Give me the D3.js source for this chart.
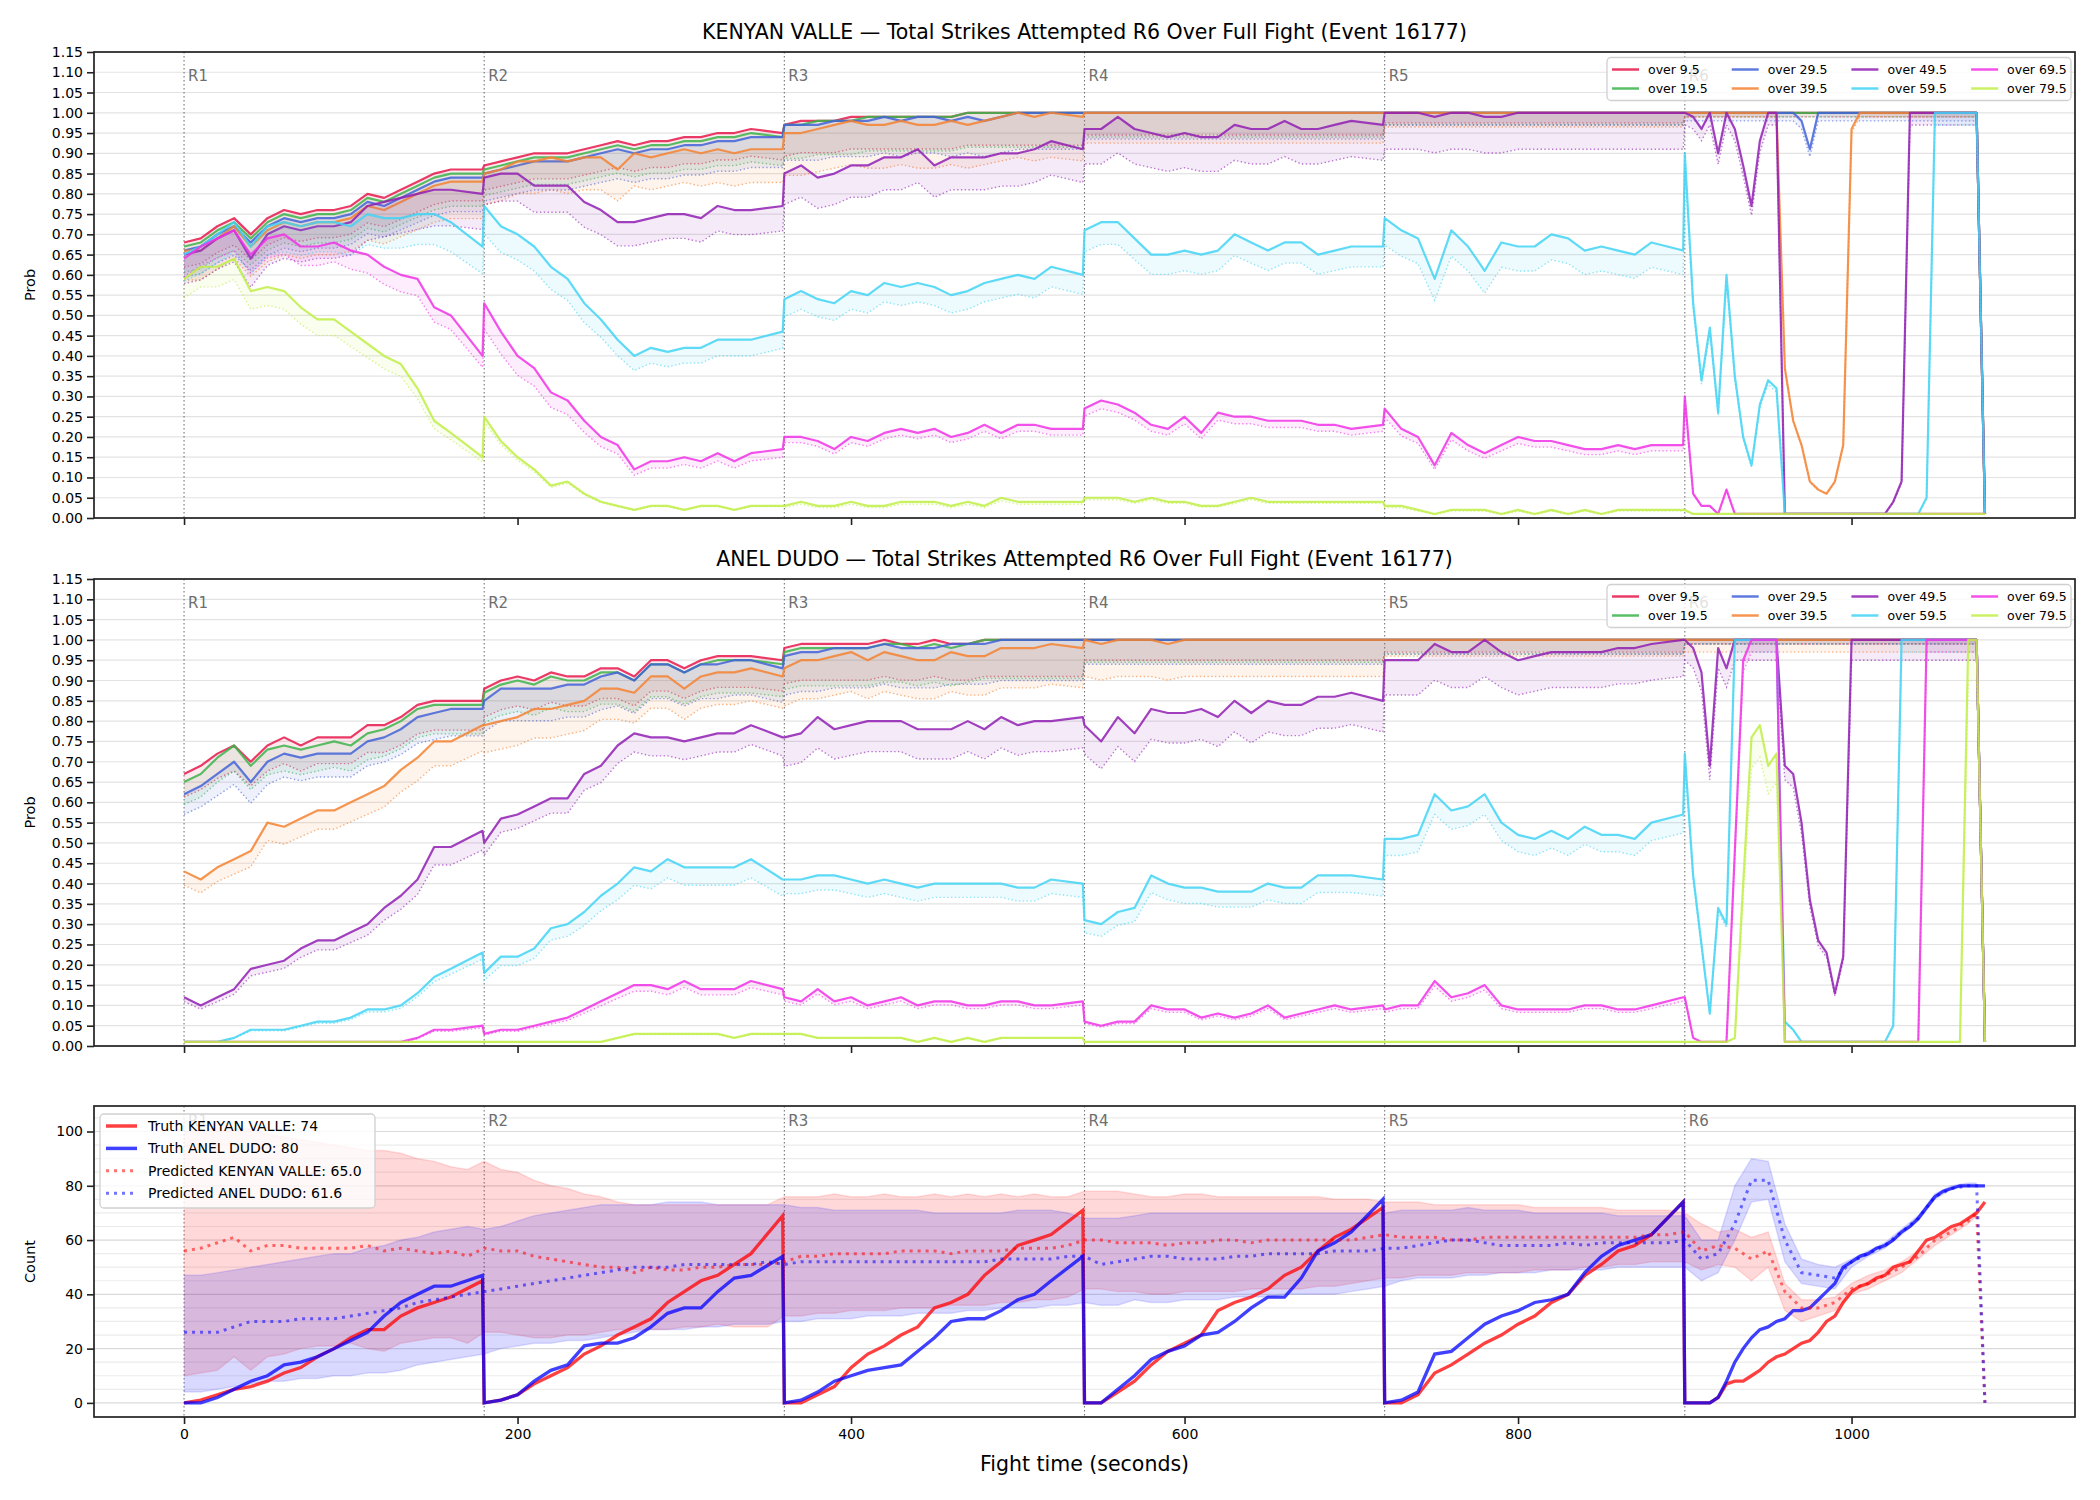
<!DOCTYPE html>
<html>
<head>
<meta charset="utf-8">
<script src="https://cdn.jsdelivr.net/npm/d3@7"></script>
<style>
  body { margin: 0; background: #fff; }
  text { font-family: "DejaVu Sans", sans-serif; }
</style>
</head>
<body>
<svg id="chart"></svg>
<script>
// helper for flat stretches (line sits on 1.00 or on the floor)
const run = (v, n) => Array(n).fill(v);

// ---- sampling grid: rounds 1-5 every 10 s (+ last second), round 6 every 5 s, then fight end
const ROUND_STARTS = [0, 180, 360, 540, 720, 900];
const ROUND_LABELS = ["R1", "R2", "R3", "R4", "R5", "R6"];
const OFFSETS = [0, 10, 20, 30, 40, 50, 60, 70, 80, 90, 100, 110, 120, 130, 140, 150, 160, 179];
const R6_OFFSETS = d3.range(0, 180, 5);
const END_TIME = 1080;
const T = [
  ...ROUND_STARTS.slice(0, 5).flatMap(s => OFFSETS.map(o => s + o)),
  ...R6_OFFSETS.map(o => 900 + o),
  END_TIME
];

const LINE_LABELS = ["over 9.5", "over 19.5", "over 29.5", "over 39.5", "over 49.5", "over 59.5", "over 69.5", "over 79.5"];

// ---- KENYAN VALLE, probability in percent
const kvOver9 = [
  68,69,72,74,70,74,76,75,76,76,77,80,79,81,83,85,86,86,
  87,88,89,90,90,90,91,92,93,92,93,93,94,94,95,95,96,95,
  97,98,98,98,99,99,99,99,99,99,99,100,100,100,100,100,100,100,
  ...run(100,18), ...run(100,18), ...run(100,36), 1];
const kvOver19 = [
  67,68,71,73,69,73,75,74,75,75,76,79,78,80,82,84,85,85,
  86,87,88,89,89,89,90,91,92,91,92,92,93,93,94,94,95,94,
  97,97,98,98,98,99,99,99,99,99,99,100,100,100,100,100,100,100,
  ...run(100,18), ...run(100,18), ...run(100,36), 1];
const kvOver29 = [
  66,67,70,72,68,72,74,73,74,74,75,78,77,79,81,83,84,84,
  85,86,87,88,88,88,89,90,91,90,91,91,92,92,93,93,94,94,
  97,97,97,98,98,98,99,98,99,99,98,99,98,99,100,100,100,100,
  ...run(100,18), ...run(100,18),
  ...run(100,14), 98,91, ...run(100,20), 1];
const kvOver39 = [
  66,66,69,72,67,71,73,72,73,73,74,77,76,78,80,82,83,83,
  85,86,88,88,89,88,89,89,86,90,89,90,91,90,91,90,91,91,
  95,95,96,97,98,97,97,98,97,97,98,97,98,99,100,99,100,99,
  ...run(100,18), ...run(100,18),
  ...run(100,12), 37,24,18,9,7,6,9,18,96, ...run(100,15), 1];
const kvOver49 = [
  65,66,69,71,64,70,72,71,72,72,73,77,78,79,80,81,81,80,
  84,85,85,82,82,82,78,76,73,73,74,75,75,74,77,76,76,77,
  85,87,84,85,87,87,89,89,91,87,89,89,89,90,90,91,93,91,
  96,96,99,96,95,94,95,94,94,97,96,96,98,96,96,97,98,97,
  100,100,100,99,100,100,99,99,100,100,100,100,100,100,100,100,100,100,
  100,99,96,100,90,100,96,87,77,93,100,100, ...run(1,13), 4,9, ...run(100,9), 1];
const kvOver59 = [
  65,67,70,73,67,72,73,72,73,73,72,75,74,74,75,75,73,67,
  77,72,70,67,62,59,53,49,44,40,42,41,42,42,44,44,44,46,
  54,56,54,53,56,55,58,57,58,57,55,56,58,59,60,59,62,60,
  71,73,73,69,65,65,66,65,66,70,68,66,68,68,65,66,67,67,
  74,71,69,59,71,67,61,68,67,67,70,69,66,67,66,65,68,66,
  90,53,34,47,26,60,35,20,13,28,34,32, ...run(1,17), 5, ...run(100,6), 1];
const kvOver69 = [
  64,67,69,71,65,69,70,67,67,68,66,65,62,60,59,52,50,40,
  53,46,40,37,31,29,24,20,18,12,14,14,15,14,16,14,16,17,
  20,20,19,17,20,19,21,22,21,22,20,21,23,21,23,23,22,22,
  27,29,28,26,23,22,25,21,26,25,25,24,24,24,23,23,22,23,
  27,22,20,13,21,18,16,18,20,19,19,18,17,17,18,17,18,18,
  30,6,3,3,1,7,1, ...run(1,29), 1];
const kvOver79 = [
  59,62,62,64,56,57,56,52,49,49,46,43,40,38,32,24,21,15,
  25,19,15,12,8,9,6,4,3,2,3,3,2,3,3,2,3,3,
  3,4,3,3,4,3,3,4,4,4,3,4,3,5,4,4,4,4,
  5,5,5,4,5,4,4,3,3,4,5,4,4,4,4,4,4,4,
  3,3,2,1,2,2,2,1,2,1,2,1,2,1,2,2,2,2,
  2, ...run(1,35), 1];

// ---- ANEL DUDO, probability in percent
const adOver9 = [
  67,69,72,74,70,74,76,74,76,76,76,79,79,81,84,85,85,85,
  88,90,91,90,92,91,91,93,93,91,95,95,93,95,96,96,96,95,
  98,99,99,99,99,99,100,99,99,100,99,99,100,100,100,100,100,100,
  ...run(100,18), ...run(100,18), ...run(100,36), 1];
const adOver19 = [
  65,67,71,74,69,73,74,73,74,75,74,77,78,80,83,84,84,84,
  87,89,90,89,91,90,90,92,92,90,94,94,92,94,95,95,95,94,
  97,98,98,98,98,98,99,99,98,99,98,99,100,100,100,100,100,100,
  ...run(100,18), ...run(100,18), ...run(100,36), 1];
const adOver29 = [
  62,64,67,70,65,70,72,71,72,72,72,75,76,78,81,82,83,83,
  85,88,88,88,88,89,89,91,92,90,94,94,92,94,94,95,95,93,
  96,97,97,98,98,98,99,98,98,98,99,99,99,100,100,100,100,100,
  ...run(100,18), ...run(100,18), ...run(100,36), 1];
const adOver39 = [
  43,41,44,46,48,55,54,56,58,58,60,62,64,68,71,75,75,79,
  79,80,81,83,83,84,85,88,88,87,91,91,88,91,92,92,93,91,
  93,95,95,96,97,95,97,96,95,95,97,96,96,98,98,98,99,98,
  100,99,100,100,100,99, ...run(100,12),
  ...run(100,18), ...run(100,36), 1];
const adOver49 = [
  12,10,12,14,19,20,21,24,26,26,28,30,34,37,41,49,49,53,
  50,56,57,59,61,61,67,69,74,77,76,76,75,76,77,77,79,76,
  76,77,81,78,79,80,80,80,78,78,78,80,78,81,79,80,80,81,
  79,75,81,77,83,82,82,83,81,85,82,85,84,84,86,86,87,85,
  95,95,95,99,97,97,100,97,95,96,97,97,97,97,98,98,99,100,
  100,98,92,69,98,93, ...run(100,6), 69,67,55,36,26,23,13,22, ...run(100,16), 1];
const adOver59 = [
  1,1,1,2,4,4,4,5,6,6,7,9,9,10,13,17,19,23,
  18,22,22,24,29,30,33,37,40,44,43,46,44,44,44,44,46,41,
  41,41,42,42,41,40,41,40,39,40,40,40,40,40,39,39,41,40,
  31,30,33,34,42,40,39,39,38,38,38,40,39,39,42,42,42,41,
  51,51,52,62,58,59,62,55,52,51,53,51,54,52,52,51,55,57,
  72,42,25,8,34,30, ...run(100,6), 6,4, ...run(1,11), 5, ...run(100,10), 1];
const adOver69 = [
  1,1,1,1,1,1,1,1,1,1,1,1,1,1,2,4,4,5,
  3,4,4,5,6,7,9,11,13,15,15,14,16,14,14,14,16,14,
  12,11,14,11,12,10,11,12,10,11,11,10,10,11,11,10,10,11,
  6,5,6,6,10,9,9,7,8,7,8,10,7,8,9,10,9,10,
  9,10,10,16,12,13,15,10,9,9,9,9,10,10,9,9,10,12,
  12,2,1,1,1,1,48,95,100,100,100,100, ...run(1,17), ...run(100,7), 1];
const adOver79 = [
  ...run(1,18),
  1,1,1,1,1,1,1,1,2,3,3,3,3,3,3,2,3,3,
  3,3,2,2,2,2,2,2,1,2,1,2,1,2,2,2,2,2,
  ...run(1,18), ...run(1,18),
  ...run(1,6), 2,40,76,79,69,72, ...run(1,22), 100,100, 1];

// ---- width of the dotted lower band, as a fraction of the value, per round (R1..R6)
const kvBand = [
  [.09,.07,.08,.055,.025,.01], [.095,.075,.085,.06,.03,.01], [.10,.08,.09,.065,.03,.02], [.11,.09,.11,.075,.035,.01],
  [.11,.08,.09,.09,.09,.03], [.10,.09,.08,.075,.09,.03], [.07,.12,.07,.07,.08,.03], [.08,.05,.15,.10,.15,.10]
];
const adBand = [
  [.085,.08,.09,.05,.03,.01], [.085,.085,.095,.055,.035,.01], [.08,.09,.10,.06,.035,.01], [.08,.086,.10,.09,.04,.03],
  [.09,.06,.094,.09,.09,.05], [.07,.10,.085,.10,.08,.03], [.10,.10,.08,.08,.08,.03], [.05,.05,.05,.05,.05,.10]
];

// ---- counts: truth on the same grid as above
const kvTruth = [
  0,1,3,5,6,8,11,13,17,20,24,27,27,32,35,37,39,45,
  0,1,3,7,10,13,18,21,25,28,31,37,41,45,47,51,55,69,
  0,0,3,6,13,18,21,25,28,35,37,40,47,52,58,60,62,71,
  0,0,4,8,14,19,22,25,34,37,39,42,47,50,56,61,64,72,
  0,0,3,11,14,18,22,25,29,32,37,40,47,51,56,58,62,74,
  0,0,0,0,2,7,8,8,10,12,15,17,18,20,22,23,26,30,32,37,41,43,44,46,47,50,51,52,56,60,61,63,65,66,68,70,
  74];
const adTruth = [
  0,0,2,5,8,10,14,15,17,20,23,26,32,37,40,43,43,47,
  0,1,3,8,12,14,21,22,22,24,28,33,35,35,41,46,47,54,
  0,1,4,8,10,12,13,14,19,24,30,31,31,34,38,40,45,54,
  0,0,5,10,16,19,21,25,26,30,35,39,39,46,56,59,63,75,
  0,1,4,18,19,24,29,32,34,37,38,40,48,54,58,60,62,74,
  0,0,0,0,2,8,15,20,24,27,28,30,31,34,34,35,38,41,44,50,52,54,55,57,58,60,63,65,68,72,76,78,79,80,80,80,
  80];

// ---- predictions on a 10 s grid
const CT = [...d3.range(0, 1080, 10), 1075, 1080];
const kvPred = [
  56,57,59,61,56,58,58,57,57,57, 57,58,56,57,56,55,56,54,57,56,
  56,54,53,52,51,50,50,48,50,49, 49,50,50,51,51,51,52,54,54,55,
  55,55,55,56,56,56,55,56,56,56, 57,57,57,58,60,60,59,59,59,58,
  59,59,60,60,59,60,60,60,60,60, 60,61,62,61,61,61,60,60,61,61,
  61,61,61,61,61,61,61,61,62,62, 63,56,58,57,53,56,41,35,35,37,
  42,44,47,50,54,60,63,67, 70, 0];
const kvHigh = [
  100,100,100,101,101,99,98,97,96,95, 94,93,93,92,90,89,87,86,89,86,
  85,82,80,79,77,76,74,73,73,73, 73,73,73,73,73,73,76,76,76,77,
  76,76,77,76,76,77,76,77,76,77, 76,77,76,76,78,78,78,77,76,76,
  77,77,76,76,76,76,76,76,76,75, 75,75,74,74,74,73,73,73,73,73,
  73,72,72,72,72,72,71,71,71,71, 70,66,63,64,61,63,44,38,38,39,
  44,47,49,52,56,60,64,68, 71, null];
const kvLow = [
  10,11,12,17,12,17,18,20,21,21, 22,20,19,22,23,24,24,22,26,26,
  25,24,24,25,25,26,27,27,27,27, 28,28,29,28,28,28,32,32,33,33,
  34,34,34,35,35,35,36,36,36,37, 37,38,38,39,42,42,41,41,40,40,
  41,41,41,41,42,42,42,42,43,43, 44,45,46,46,47,47,47,48,48,48,
  48,49,49,49,50,50,51,51,52,52, 52,49,51,50,45,50,34,30,32,34,
  40,42,45,48,53,58,62,66, 69, null];
const adPred = [
  26,26,26,28,30,30,30,31,31,31, 32,33,34,35,37,38,39,40,41,42,
  43,44,45,46,47,48,49,50,50,50, 51,51,51,51,51,52,51,52,52,52,
  52,52,52,52,52,52,52,52,52,53, 53,53,53,54,54,51,52,53,54,54,
  53,53,53,54,54,55,55,55,55,56, 56,56,57,57,58,59,60,60,59,58,
  58,58,58,59,58,59,59,59,59,59, 60,53,55,66,82,82,60,48,47,46,
  52,55,58,63,68,76,79,80, 80, 0];
const adHigh = [
  47,47,48,49,50,51,52,53,54,55, 55,57,58,60,61,63,64,65,64,65,
  67,69,70,71,72,73,73,73,73,74, 74,74,73,73,73,73,73,72,72,71,
  71,71,71,71,71,70,70,70,70,70, 71,71,71,70,68,68,68,69,70,70,
  70,70,70,70,70,70,70,70,70,70, 70,70,70,71,71,71,71,72,71,71,
  71,70,70,70,70,70,69,69,69,69, 69,60,60,80,90,89,66,53,51,50,
  53,56,59,64,69,77,80,81, 81, null];
const adLow = [
  4,4,5,6,7,8,8,9,9,10, 10,11,11,12,14,15,16,17,18,20,
  21,22,22,23,23,24,25,26,27,27, 27,28,28,29,29,29,30,30,31,31,
  31,32,32,32,33,33,33,34,34,35, 35,35,36,36,37,36,36,38,37,37,
  38,38,38,39,39,39,40,40,40,40, 41,42,43,45,46,46,46,47,47,48,
  48,48,49,49,49,49,50,50,50,50, 50,45,48,60,74,75,52,44,43,42,
  50,54,57,62,67,75,79,80, 80, null];

const COLORS = ["#e6194B", "#3cb44b", "#4363d8", "#f58231", "#911eb4", "#42d4f4", "#f032e6", "#bfef45"];
const X_TICKS = [0, 200, 400, 600, 800, 1000];

// ---- layout
const W = 2100, H = 1500;
const LEFT = 94, RIGHT = 2075;
const PANELS = [
  { top: 52, bottom: 518 },
  { top: 579, bottom: 1046 },
  { top: 1106, bottom: 1417 }
];

const svg = d3.select("#chart").attr("width", W).attr("height", H);
svg.append("rect").attr("width", W).attr("height", H).attr("fill", "#fff");
const defs = svg.append("defs");

const x = d3.scaleLinear().domain([-54, 1134]).range([LEFT, RIGHT]);
const roundOf = i => (i < 90 ? Math.floor(i / 18) : 5);

// warn if any series does not match its grid
const checks = [kvOver9, kvOver19, kvOver29, kvOver39, kvOver49, kvOver59, kvOver69, kvOver79,
  adOver9, adOver19, adOver29, adOver39, adOver49, adOver59, adOver69, adOver79, kvTruth, adTruth]
  .map((a, i) => a.length === T.length ? null : `s${i}:${a.length}`)
  .concat([kvPred, kvHigh, kvLow, adPred, adHigh, adLow].map((a, i) => a.length === CT.length ? null : `c${i}:${a.length}`))
  .filter(Boolean);
if (checks.length) svg.append("text").attr("x", 300).attr("y", 30).attr("fill", "red").text("LEN " + checks.join(" "));

function frame(p, idx, y, yTicks, yFormat, showXLabels) {
  const g = svg.append("g");
  defs.append("clipPath").attr("id", "clip" + idx)
    .append("rect").attr("x", LEFT).attr("y", p.top).attr("width", RIGHT - LEFT).attr("height", p.bottom - p.top);

  const yAxis = g.append("g").attr("transform", `translate(${LEFT},0)`)
    .call(d3.axisLeft(y).tickValues(yTicks).tickFormat(yFormat).tickSize(7).tickPadding(4));
  yAxis.select(".domain").remove();
  yAxis.selectAll("line").attr("stroke", "#222").attr("stroke-width", 1.6);
  yAxis.selectAll("text").attr("font-size", 14).attr("fill", "#000").style("font-family", "DejaVu Sans");

  const xAxis = g.append("g").attr("transform", `translate(0,${p.bottom})`)
    .call(d3.axisBottom(x).tickValues(X_TICKS).tickFormat(showXLabels ? d3.format("d") : "").tickSize(7).tickPadding(5));
  xAxis.select(".domain").remove();
  xAxis.selectAll("line").attr("stroke", "#222").attr("stroke-width", 1.6);
  xAxis.selectAll("text").attr("font-size", 14).attr("fill", "#000").style("font-family", "DejaVu Sans");
  return g;
}

function roundMarks(g, p, y, labelValue, idx) {
  const rg = g.append("g").attr("clip-path", `url(#clip${idx})`);
  rg.selectAll("line").data(ROUND_STARTS).join("line")
    .attr("x1", d => x(d)).attr("x2", d => x(d))
    .attr("y1", p.top).attr("y2", p.bottom)
    .attr("stroke", "#555").attr("stroke-width", 1.1).attr("stroke-dasharray", "1.5,2.5").attr("opacity", 0.8);
  g.selectAll("text.round").data(ROUND_STARTS).join("text").attr("class", "round")
    .attr("x", d => x(d) + 4).attr("y", y(labelValue))
    .attr("dominant-baseline", "central")
    .attr("font-size", 15).attr("fill", "#555").attr("opacity", 0.85)
    .text((d, i) => ROUND_LABELS[i]);
}

function spines(g, p) {
  g.append("rect").attr("x", LEFT).attr("y", p.top).attr("width", RIGHT - LEFT).attr("height", p.bottom - p.top)
    .attr("fill", "none").attr("stroke", "#222").attr("stroke-width", 1.7);
}

function drawProbPanel(idx, title, seriesValues, bands) {
  const p = PANELS[idx];
  const y = d3.scaleLinear().domain([0, 115]).range([p.bottom, p.top]);
  const yTicks = d3.range(0, 116, 5);

  const grid = svg.append("g");
  grid.selectAll("line").data(yTicks).join("line")
    .attr("x1", LEFT).attr("x2", RIGHT).attr("y1", d => y(d)).attr("y2", d => y(d))
    .attr("stroke", "#e3e3e3").attr("stroke-width", 1.2);

  const g = frame(p, idx, y, yTicks, d => (d / 100).toFixed(2), false);
  roundMarks(g, p, y, 109.2, idx);

  const plot = g.append("g").attr("clip-path", `url(#clip${idx})`);
  const area = d3.area().x(d => x(d.t)).y0(d => y(d.lo)).y1(d => y(d.v));
  const lineV = d3.line().x(d => x(d.t)).y(d => y(d.v));
  const lineLo = d3.line().x(d => x(d.t)).y(d => y(d.lo));

  seriesValues.forEach((vals, k) => {
    const pts = T.map((t, i) => ({ t, v: vals[i], lo: vals[i] * (1 - bands[k][roundOf(i)]) }));
    plot.append("path").datum(pts).attr("d", area)
      .attr("fill", COLORS[k]).attr("fill-opacity", 0.09);
    plot.append("path").datum(pts).attr("d", lineLo)
      .attr("fill", "none").attr("stroke", COLORS[k]).attr("stroke-opacity", 0.6)
      .attr("stroke-width", 1.4).attr("stroke-dasharray", "1.4,2.4");
    plot.append("path").datum(pts).attr("d", lineV)
      .attr("fill", "none").attr("stroke", COLORS[k]).attr("stroke-opacity", 0.85)
      .attr("stroke-width", 2.2).attr("stroke-linejoin", "round");
  });

  spines(g, p);

  svg.append("text").attr("x", (LEFT + RIGHT) / 2).attr("y", p.top - 13)
    .attr("text-anchor", "middle").attr("font-size", 20.5).attr("fill", "#000").text(title);
  svg.append("text").attr("transform", `translate(30,${(p.top + p.bottom) / 2}) rotate(-90)`)
    .attr("text-anchor", "middle").attr("dominant-baseline", "central")
    .attr("font-size", 14.5).attr("fill", "#000").text("Prob");

  // legend, 4 columns filled column by column
  const lg = svg.append("g");
  lg.append("rect").attr("x", 1607).attr("y", p.top + 5.5).attr("width", 464).attr("height", 43).attr("rx", 4)
    .attr("fill", "#fff").attr("fill-opacity", 0.8).attr("stroke", "#d0d0d0").attr("stroke-width", 1.3);
  LINE_LABELS.forEach((label, k) => {
    const lx = 1612 + Math.floor(k / 2) * 119.7;
    const ly = p.top + 17.5 + (k % 2) * 19;
    lg.append("line").attr("x1", lx).attr("x2", lx + 27).attr("y1", ly).attr("y2", ly)
      .attr("stroke", COLORS[k]).attr("stroke-opacity", 0.85).attr("stroke-width", 2.5);
    lg.append("text").attr("x", lx + 36).attr("y", ly).attr("dominant-baseline", "central")
      .attr("font-size", 12.5).attr("fill", "#000").text(label);
  });
}

drawProbPanel(0, "KENYAN VALLE \u2014 Total Strikes Attempted R6 Over Full Fight (Event 16177)",
  [kvOver9, kvOver19, kvOver29, kvOver39, kvOver49, kvOver59, kvOver69, kvOver79], kvBand);
drawProbPanel(1, "ANEL DUDO \u2014 Total Strikes Attempted R6 Over Full Fight (Event 16177)",
  [adOver9, adOver19, adOver29, adOver39, adOver49, adOver59, adOver69, adOver79], adBand);

// ---- count panel
(function drawCountPanel() {
  const idx = 2, p = PANELS[idx];
  const y = d3.scaleLinear().domain([-5.2, 109.4]).range([p.bottom, p.top]);

  const grid = svg.append("g");
  grid.selectAll("line").data(d3.range(0, 106, 5)).join("line")
    .attr("x1", LEFT).attr("x2", RIGHT).attr("y1", d => y(d)).attr("y2", d => y(d))
    .attr("stroke", d => (d % 20 === 0 ? "#dadada" : "#ececec")).attr("stroke-width", 1.2);

  const g = frame(p, idx, y, [0, 20, 40, 60, 80, 100], d3.format("d"), true);
  roundMarks(g, p, y, 103.7, idx);

  const plot = g.append("g").attr("clip-path", `url(#clip${idx})`);
  const bandArea = d3.area().defined(d => d.hi != null).x(d => x(d.t)).y0(d => y(d.lo)).y1(d => y(d.hi));
  const bandTop = d3.line().defined(d => d.hi != null).x(d => x(d.t)).y(d => y(d.hi));
  const bandBot = d3.line().defined(d => d.hi != null).x(d => x(d.t)).y(d => y(d.lo));

  [[kvLow, kvHigh, "#ff0000"], [adLow, adHigh, "#0000ff"]].forEach(([lo, hi, c]) => {
    const pts = CT.map((t, i) => ({ t, lo: lo[i], hi: hi[i] }));
    plot.append("path").datum(pts).attr("d", bandArea).attr("fill", c).attr("fill-opacity", 0.15);
    plot.append("path").datum(pts).attr("d", bandTop).attr("fill", "none").attr("stroke", c).attr("stroke-opacity", 0.12).attr("stroke-width", 1.5);
    plot.append("path").datum(pts).attr("d", bandBot).attr("fill", "none").attr("stroke", c).attr("stroke-opacity", 0.12).attr("stroke-width", 1.5);
  });

  const line = d3.line().x(d => x(d.t)).y(d => y(d.v));
  [[kvTruth, "#ff0000"], [adTruth, "#0000ff"]].forEach(([vals, c]) => {
    plot.append("path").datum(T.map((t, i) => ({ t, v: vals[i] }))).attr("d", line)
      .attr("fill", "none").attr("stroke", c).attr("stroke-opacity", 0.75).attr("stroke-width", 3.3);
  });
  [[kvPred, "#ff0000"], [adPred, "#0000ff"]].forEach(([vals, c]) => {
    plot.append("path").datum(CT.map((t, i) => ({ t, v: vals[i] }))).attr("d", line)
      .attr("fill", "none").attr("stroke", c).attr("stroke-opacity", 0.55).attr("stroke-width", 3)
      .attr("stroke-dasharray", "3,5");
  });

  spines(g, p);

  svg.append("text").attr("transform", `translate(30,${(p.top + p.bottom) / 2}) rotate(-90)`)
    .attr("text-anchor", "middle").attr("dominant-baseline", "central")
    .attr("font-size", 14.5).attr("fill", "#000").text("Count");
  svg.append("text").attr("x", (LEFT + RIGHT) / 2).attr("y", 1464)
    .attr("text-anchor", "middle").attr("dominant-baseline", "central")
    .attr("font-size", 20.5).attr("fill", "#000").text("Fight time (seconds)");

  const entries = [
    { label: "Truth KENYAN VALLE: 74", c: "#ff0000", dash: null },
    { label: "Truth ANEL DUDO: 80", c: "#0000ff", dash: null },
    { label: "Predicted KENYAN VALLE: 65.0", c: "#ff0000", dash: "3,5" },
    { label: "Predicted ANEL DUDO: 61.6", c: "#0000ff", dash: "3,5" }
  ];
  const lg = svg.append("g");
  lg.append("rect").attr("x", 100).attr("y", 1114).attr("width", 275).attr("height", 94).attr("rx", 4)
    .attr("fill", "#fff").attr("fill-opacity", 0.8).attr("stroke", "#d0d0d0").attr("stroke-width", 1.3);
  entries.forEach((e, k) => {
    const ly = 1126 + k * 22.4;
    lg.append("line").attr("x1", 106).attr("x2", 137).attr("y1", ly).attr("y2", ly)
      .attr("stroke", e.c).attr("stroke-opacity", e.dash ? 0.55 : 0.75)
      .attr("stroke-width", e.dash ? 3 : 3.5).attr("stroke-dasharray", e.dash);
    lg.append("text").attr("x", 148).attr("y", ly).attr("dominant-baseline", "central")
      .attr("font-size", 14).attr("fill", "#000").text(e.label);
  });
})();
</script>
</body>
</html>
